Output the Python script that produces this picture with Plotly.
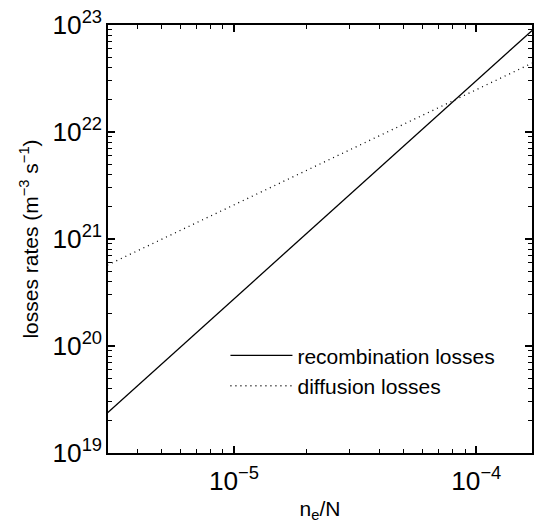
import plotly.graph_objects as go

# relative electron density n_e/N
ne_over_N = [3.0e-6, 1.0e-5, 1.0e-4, 1.7e-4]
# loss rates in m^-3 s^-1
recombination_losses = [2.37e19, 2.76e20, 3.03e22, 8.9e22]
diffusion_losses = [5.7e20, 2.08e21, 2.49e22, 4.4e22]

FONT = "Liberation Sans, Arial, sans-serif"

fig = go.Figure()
fig.add_trace(go.Scatter(
    x=ne_over_N, y=recombination_losses, mode="lines",
    name="recombination losses",
    line=dict(color="black", width=1.3),
))
fig.add_trace(go.Scatter(
    x=ne_over_N, y=diffusion_losses, mode="lines",
    name="diffusion losses",
    line=dict(color="black", width=1.3, dash="1px,4px"),
))

axis_common = dict(
    type="log",
    showgrid=False,
    zeroline=False,
    showline=True,
    linecolor="black",
    linewidth=1.5,
    mirror="allticks",
    ticks="inside",
    ticklen=7,
    tickwidth=1.5,
    tickcolor="black",
    exponentformat="power",
    dtick=1,
    tickfont=dict(family=FONT, size=21, color="black"),
    minor=dict(ticks="inside", dtick="D1", ticklen=4, tickwidth=1.2,
               tickcolor="black", showgrid=False),
)

fig.update_xaxes(
    range=[-5.52, -3.77],
    ticklabelstandoff=5,
    title=dict(text="n<sub>e</sub>/N",
               font=dict(family=FONT, size=21, color="black"), standoff=6),
    **axis_common,
)
fig.update_yaxes(
    range=[19, 23],
    title=dict(text="losses rates (m<sup>−3</sup> s<sup>−1</sup>)",
               font=dict(family=FONT, size=21, color="black"), standoff=8),
    **axis_common,
)

fig.update_layout(
    width=537, height=523,
    margin=dict(l=108, r=3, t=25, b=70),
    paper_bgcolor="white",
    plot_bgcolor="white",
    font=dict(family=FONT, color="black"),
    legend=dict(
        x=0.277, y=0.275, xanchor="left", yanchor="top",
        bgcolor="rgba(0,0,0,0)",
        font=dict(family=FONT, size=21, color="black"),
        itemwidth=62,
        tracegroupgap=0,
    ),
)

fig.write_html("out.html")
